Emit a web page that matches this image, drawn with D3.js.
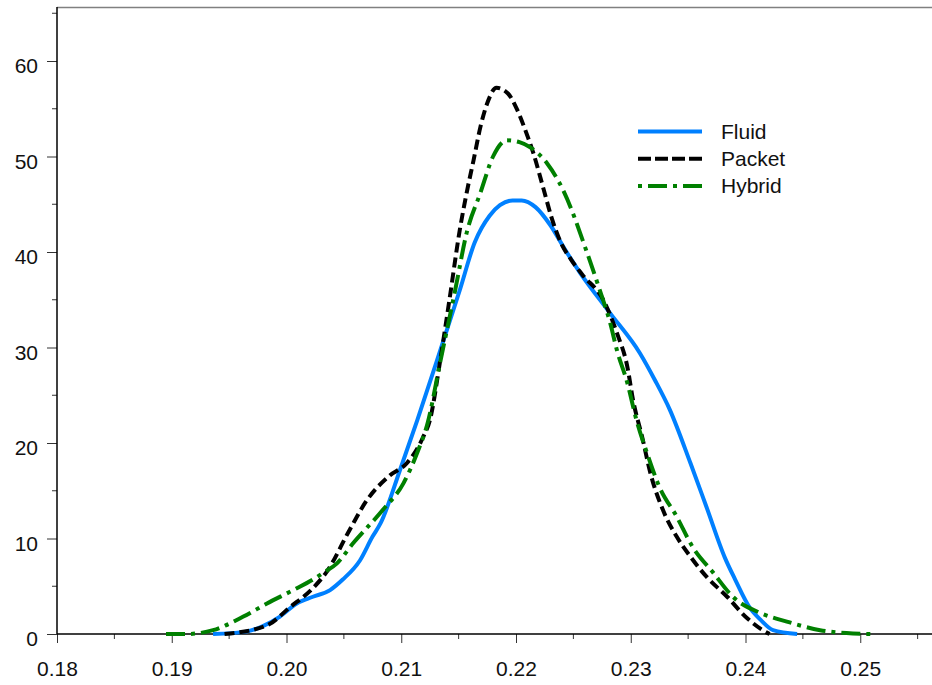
<!DOCTYPE html>
<html>
<head>
<meta charset="utf-8">
<script src="https://cdn.jsdelivr.net/npm/d3@7"></script>
<style>
body{margin:0;background:#fff;}
svg{display:block;font-family:"Liberation Sans",Arial,sans-serif;}
</style>
</head>
<body>
<div class="chart"></div>
<script>
// density curves
var fluidX  = [0.1936,0.1965,0.1979,0.1994,0.2009,0.2023,0.2038,0.2049,0.2064,0.2075,0.2082,0.2099,0.2114,0.2134,0.2151,0.2164,0.2177,0.2186,0.2197,0.2205,0.2217,0.2230,0.2243,0.2256,0.2282,0.2308,0.2321,0.2334,0.2352,0.2366,0.2382,0.2391,0.2404,0.2413,0.2424,0.2445];
var fluidY  = [0,0.25,0.8,1.8,3.2,3.9,4.6,5.7,7.7,10.2,11.6,17.2,22.4,29.7,36.0,41.0,43.8,44.9,45.4,45.4,44.7,42.8,40.2,37.8,33.6,29.4,26.6,23.5,17.9,13.3,8.0,5.7,2.7,1.5,0.4,0];

var packetX = [0.1946,0.1983,0.2003,0.2023,0.2035,0.2055,0.2070,0.2090,0.2105,0.2119,0.2125,0.2134,0.2142,0.2151,0.2157,0.2163,0.2169,0.2175,0.2183,0.2193,0.2201,0.2208,0.2215,0.2224,0.2231,0.2239,0.2248,0.2258,0.2276,0.2288,0.2297,0.2302,0.2310,0.2317,0.2328,0.2340,0.2352,0.2366,0.2384,0.2401,0.2415,0.2421];
var packetY = [0,0.9,2.8,4.8,6.5,10.9,14.0,16.6,17.9,20.6,22.4,28.7,35,42.3,46.2,49.6,53.1,55.6,57.2,56.6,54.9,52.8,50.4,46.6,43.6,41.0,39.2,37.6,35,31.5,28,24.5,20.6,16.9,13,10.2,8.1,6.0,3.9,1.7,0.4,0];

var hybridX = [0.1895,0.1913,0.1936,0.1962,0.1983,0.2006,0.2023,0.2032,0.2044,0.2058,0.2084,0.2102,0.2114,0.2123,0.2134,0.2147,0.2157,0.2169,0.2180,0.2192,0.2203,0.2212,0.2227,0.2241,0.2262,0.2273,0.2282,0.2288,0.2297,0.2305,0.2314,0.2325,0.2340,0.2354,0.2372,0.2389,0.2413,0.2436,0.2465,0.2488,0.2509];
var hybridY = [0,0,0.4,1.8,3.2,4.6,5.7,6.4,7.4,9.5,13,15.8,19,22.1,28.5,36,42,46.2,50,51.7,51.5,51,49.3,46.5,39.9,36,32.6,29.7,26.3,22.4,19,15.4,12.3,9.1,6.4,3.9,2.2,1.3,0.4,0.1,0];

var seriesNames = ["Fluid","Packet","Hybrid"];
var xTicks = [0.18,0.19,0.20,0.21,0.22,0.23,0.24,0.25];
var yTicks = [0,10,20,30,40,50,60];

var width = 932, height = 685;
var pLeft = 57, pTop = 7, pRight = 932, pBottom = 634;

var svg = d3.select(".chart").append("svg")
    .attr("width", width)
    .attr("height", height);

var x = d3.scaleLinear().domain([0.18, 0.18 + (pRight-pLeft)/11475]).range([pLeft, pRight]);
var y = d3.scaleLinear().domain([0, (pBottom-pTop)/9.55]).range([pBottom, pTop]);

// gray top line of the frame
svg.append("line")
    .attr("x1", pLeft).attr("x2", pRight)
    .attr("y1", pTop + 0.5).attr("y2", pTop + 0.5)
    .attr("stroke", "#808080").attr("stroke-width", 1.5);

// x axis
var minorX = d3.range(0.185, 0.256, 0.01);
svg.append("g").selectAll("line")
    .data(minorX).enter().append("line")
    .attr("x1", d => x(d)).attr("x2", d => x(d))
    .attr("y1", pBottom).attr("y2", pBottom + 5)
    .attr("stroke", "#333").attr("stroke-width", 1);

var xAxis = d3.axisBottom(x).tickValues(xTicks)
    .tickFormat(d3.format(".2f")).tickSize(9).tickPadding(18);
var gx = svg.append("g").attr("transform", "translate(0," + pBottom + ")").call(xAxis);
gx.select(".domain").remove();
gx.selectAll(".tick line").attr("stroke", "#333");
gx.selectAll("text").attr("font-size", 21).attr("fill", "#111");
svg.append("line")
    .attr("x1", pLeft).attr("x2", pRight)
    .attr("y1", pBottom).attr("y2", pBottom)
    .attr("stroke", "#000").attr("stroke-width", 1.5);

// y axis
var minorY = [5,15,25,35,45,55,65];
svg.append("g").selectAll("line")
    .data(minorY).enter().append("line")
    .attr("x1", pLeft - 5).attr("x2", pLeft)
    .attr("y1", d => y(d)).attr("y2", d => y(d))
    .attr("stroke", "#333").attr("stroke-width", 1);

var yAxis = d3.axisLeft(y).tickValues(yTicks).tickSize(10).tickPadding(9);
var gy = svg.append("g").attr("transform", "translate(" + pLeft + ",0)").call(yAxis);
gy.select(".domain").remove();
gy.selectAll(".tick line").attr("stroke", "#333");
gy.selectAll("text").attr("font-size", 21).attr("fill", "#111").attr("dy", "0.57em");
svg.append("line")
    .attr("x1", pLeft).attr("x2", pLeft)
    .attr("y1", pTop).attr("y2", pBottom)
    .attr("stroke", "#000").attr("stroke-width", 1.5);

// curves
var styles = [
  {color: "#0080ff", dash: null,       w: 4},
  {color: "#000000", dash: "10,5",     w: 4},
  {color: "#008000", dash: "19,6,4,6", w: 4}
];
var series = [
  d3.zip(fluidX, fluidY),
  d3.zip(packetX, packetY),
  d3.zip(hybridX, hybridY)
];

var line = d3.line()
    .x(d => x(d[0]))
    .y(d => y(d[1]))
    .curve(d3.curveMonotoneX);

[0,1,2].forEach(function(i){
  svg.append("path")
    .datum(series[i])
    .attr("d", line)
    .attr("fill", "none")
    .attr("stroke", styles[i].color)
    .attr("stroke-width", styles[i].w)
    .attr("stroke-dasharray", styles[i].dash);
});

// legend
var lg = svg.append("g").attr("class", "legend");
seriesNames.forEach(function(name, i){
  var ly = 131.5 + i*27.2;
  lg.append("line")
    .attr("x1", 638).attr("x2", 702)
    .attr("y1", ly).attr("y2", ly)
    .attr("stroke", styles[i].color)
    .attr("stroke-width", styles[i].w)
    .attr("stroke-dasharray", i == 2 ? "4,6,19,6" : (i == 1 ? "13,4" : null));
  lg.append("text")
    .attr("x", 721).attr("y", ly + 7)
    .attr("font-size", 21).attr("fill", "#111")
    .text(name);
});
</script>
</body>
</html>
